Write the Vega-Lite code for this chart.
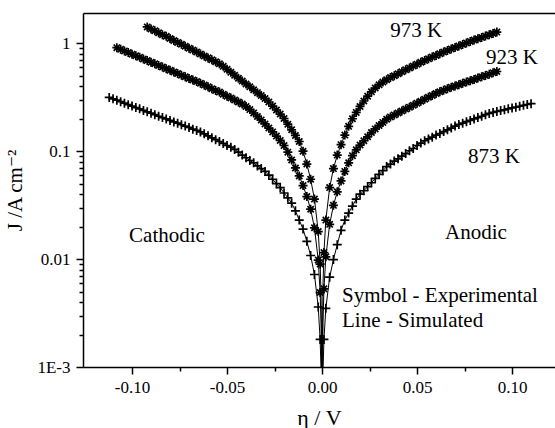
{
  "$schema": "https://vega.github.io/schema/vega-lite/v6.json",
  "width": 472,
  "height": 354,
  "autosize": "none",
  "padding": {"left": 83, "top": 13, "right": 0, "bottom": 61},
  "background": "white",
  "config": {"view": {"stroke": null}, "font": "Liberation Serif, DejaVu Serif, serif"},
  "datasets": {
    "curves": [
      {"T": "973 K", "x": -0.092, "j": 1.42}, {"T": "973 K", "x": -0.090, "j": 1.36}, {"T": "973 K", "x": -0.088, "j": 1.31},
      {"T": "973 K", "x": -0.086, "j": 1.25}, {"T": "973 K", "x": -0.084, "j": 1.20}, {"T": "973 K", "x": -0.082, "j": 1.16},
      {"T": "973 K", "x": -0.080, "j": 1.11}, {"T": "973 K", "x": -0.078, "j": 1.06}, {"T": "973 K", "x": -0.076, "j": 1.02},
      {"T": "973 K", "x": -0.074, "j": 0.980}, {"T": "973 K", "x": -0.072, "j": 0.940}, {"T": "973 K", "x": -0.070, "j": 0.902},
      {"T": "973 K", "x": -0.068, "j": 0.865}, {"T": "973 K", "x": -0.066, "j": 0.830}, {"T": "973 K", "x": -0.064, "j": 0.796},
      {"T": "973 K", "x": -0.062, "j": 0.764}, {"T": "973 K", "x": -0.060, "j": 0.733}, {"T": "973 K", "x": -0.058, "j": 0.703},
      {"T": "973 K", "x": -0.056, "j": 0.675}, {"T": "973 K", "x": -0.054, "j": 0.645}, {"T": "973 K", "x": -0.052, "j": 0.612},
      {"T": "973 K", "x": -0.050, "j": 0.575}, {"T": "973 K", "x": -0.048, "j": 0.540}, {"T": "973 K", "x": -0.046, "j": 0.506},
      {"T": "973 K", "x": -0.044, "j": 0.475}, {"T": "973 K", "x": -0.042, "j": 0.447}, {"T": "973 K", "x": -0.040, "j": 0.420},
      {"T": "973 K", "x": -0.038, "j": 0.395}, {"T": "973 K", "x": -0.036, "j": 0.371}, {"T": "973 K", "x": -0.034, "j": 0.349},
      {"T": "973 K", "x": -0.032, "j": 0.328}, {"T": "973 K", "x": -0.030, "j": 0.308}, {"T": "973 K", "x": -0.028, "j": 0.286},
      {"T": "973 K", "x": -0.026, "j": 0.262}, {"T": "973 K", "x": -0.024, "j": 0.241}, {"T": "973 K", "x": -0.022, "j": 0.221},
      {"T": "973 K", "x": -0.020, "j": 0.201}, {"T": "973 K", "x": -0.018, "j": 0.178}, {"T": "973 K", "x": -0.016, "j": 0.158},
      {"T": "973 K", "x": -0.014, "j": 0.140}, {"T": "973 K", "x": -0.012, "j": 0.123}, {"T": "973 K", "x": -0.010, "j": 0.100},
      {"T": "973 K", "x": -0.008, "j": 0.076}, {"T": "973 K", "x": -0.006, "j": 0.055}, {"T": "973 K", "x": -0.004, "j": 0.036},
      {"T": "973 K", "x": -0.002, "j": 0.018}, {"T": "973 K", "x": -0.001, "j": 0.009},
      {"T": "973 K", "x": -0.0005, "j": 0.0045, "kind": "sim"}, {"T": "973 K", "x": -0.0001, "j": 0.0009, "kind": "sim"},
      {"T": "973 K", "x": 0.0001, "j": 0.0011, "kind": "sim"}, {"T": "973 K", "x": 0.0005, "j": 0.0057, "kind": "sim"},
      {"T": "973 K", "x": 0.001, "j": 0.0115}, {"T": "973 K", "x": 0.002, "j": 0.023}, {"T": "973 K", "x": 0.004, "j": 0.046},
      {"T": "973 K", "x": 0.006, "j": 0.069}, {"T": "973 K", "x": 0.008, "j": 0.092}, {"T": "973 K", "x": 0.010, "j": 0.115},
      {"T": "973 K", "x": 0.012, "j": 0.141}, {"T": "973 K", "x": 0.014, "j": 0.170}, {"T": "973 K", "x": 0.016, "j": 0.200},
      {"T": "973 K", "x": 0.018, "j": 0.229}, {"T": "973 K", "x": 0.020, "j": 0.260}, {"T": "973 K", "x": 0.022, "j": 0.292},
      {"T": "973 K", "x": 0.024, "j": 0.324}, {"T": "973 K", "x": 0.026, "j": 0.355}, {"T": "973 K", "x": 0.028, "j": 0.385},
      {"T": "973 K", "x": 0.030, "j": 0.412}, {"T": "973 K", "x": 0.032, "j": 0.437}, {"T": "973 K", "x": 0.034, "j": 0.460},
      {"T": "973 K", "x": 0.036, "j": 0.481}, {"T": "973 K", "x": 0.038, "j": 0.501}, {"T": "973 K", "x": 0.040, "j": 0.522},
      {"T": "973 K", "x": 0.042, "j": 0.545}, {"T": "973 K", "x": 0.044, "j": 0.568}, {"T": "973 K", "x": 0.046, "j": 0.592},
      {"T": "973 K", "x": 0.048, "j": 0.617}, {"T": "973 K", "x": 0.050, "j": 0.641}, {"T": "973 K", "x": 0.052, "j": 0.667},
      {"T": "973 K", "x": 0.054, "j": 0.692}, {"T": "973 K", "x": 0.056, "j": 0.718}, {"T": "973 K", "x": 0.058, "j": 0.745},
      {"T": "973 K", "x": 0.060, "j": 0.773}, {"T": "973 K", "x": 0.062, "j": 0.802}, {"T": "973 K", "x": 0.064, "j": 0.830},
      {"T": "973 K", "x": 0.066, "j": 0.859}, {"T": "973 K", "x": 0.068, "j": 0.887}, {"T": "973 K", "x": 0.070, "j": 0.916},
      {"T": "973 K", "x": 0.072, "j": 0.946}, {"T": "973 K", "x": 0.074, "j": 0.977}, {"T": "973 K", "x": 0.076, "j": 1.009},
      {"T": "973 K", "x": 0.078, "j": 1.042}, {"T": "973 K", "x": 0.080, "j": 1.074}, {"T": "973 K", "x": 0.082, "j": 1.104},
      {"T": "973 K", "x": 0.084, "j": 1.135}, {"T": "973 K", "x": 0.086, "j": 1.167}, {"T": "973 K", "x": 0.088, "j": 1.202},
      {"T": "973 K", "x": 0.090, "j": 1.236}, {"T": "973 K", "x": 0.092, "j": 1.271},

      {"T": "923 K", "x": -0.108, "j": 0.912}, {"T": "923 K", "x": -0.106, "j": 0.881}, {"T": "923 K", "x": -0.104, "j": 0.851},
      {"T": "923 K", "x": -0.102, "j": 0.822}, {"T": "923 K", "x": -0.100, "j": 0.794}, {"T": "923 K", "x": -0.098, "j": 0.767},
      {"T": "923 K", "x": -0.096, "j": 0.741}, {"T": "923 K", "x": -0.094, "j": 0.716}, {"T": "923 K", "x": -0.092, "j": 0.692},
      {"T": "923 K", "x": -0.090, "j": 0.668}, {"T": "923 K", "x": -0.088, "j": 0.646}, {"T": "923 K", "x": -0.086, "j": 0.624},
      {"T": "923 K", "x": -0.084, "j": 0.603}, {"T": "923 K", "x": -0.082, "j": 0.582}, {"T": "923 K", "x": -0.080, "j": 0.562},
      {"T": "923 K", "x": -0.078, "j": 0.543}, {"T": "923 K", "x": -0.076, "j": 0.525}, {"T": "923 K", "x": -0.074, "j": 0.507},
      {"T": "923 K", "x": -0.072, "j": 0.490}, {"T": "923 K", "x": -0.070, "j": 0.473}, {"T": "923 K", "x": -0.068, "j": 0.457},
      {"T": "923 K", "x": -0.066, "j": 0.442}, {"T": "923 K", "x": -0.064, "j": 0.427}, {"T": "923 K", "x": -0.062, "j": 0.411},
      {"T": "923 K", "x": -0.060, "j": 0.395}, {"T": "923 K", "x": -0.058, "j": 0.380}, {"T": "923 K", "x": -0.056, "j": 0.366},
      {"T": "923 K", "x": -0.054, "j": 0.353}, {"T": "923 K", "x": -0.052, "j": 0.338}, {"T": "923 K", "x": -0.050, "j": 0.324},
      {"T": "923 K", "x": -0.048, "j": 0.311}, {"T": "923 K", "x": -0.046, "j": 0.298}, {"T": "923 K", "x": -0.044, "j": 0.286},
      {"T": "923 K", "x": -0.042, "j": 0.274}, {"T": "923 K", "x": -0.040, "j": 0.259}, {"T": "923 K", "x": -0.038, "j": 0.243},
      {"T": "923 K", "x": -0.036, "j": 0.226}, {"T": "923 K", "x": -0.034, "j": 0.210}, {"T": "923 K", "x": -0.032, "j": 0.195},
      {"T": "923 K", "x": -0.030, "j": 0.179}, {"T": "923 K", "x": -0.028, "j": 0.164}, {"T": "923 K", "x": -0.026, "j": 0.151},
      {"T": "923 K", "x": -0.024, "j": 0.138}, {"T": "923 K", "x": -0.022, "j": 0.126}, {"T": "923 K", "x": -0.020, "j": 0.113},
      {"T": "923 K", "x": -0.018, "j": 0.098}, {"T": "923 K", "x": -0.016, "j": 0.083}, {"T": "923 K", "x": -0.014, "j": 0.070},
      {"T": "923 K", "x": -0.012, "j": 0.059}, {"T": "923 K", "x": -0.010, "j": 0.048}, {"T": "923 K", "x": -0.008, "j": 0.038},
      {"T": "923 K", "x": -0.006, "j": 0.029}, {"T": "923 K", "x": -0.004, "j": 0.0195}, {"T": "923 K", "x": -0.002, "j": 0.0098},
      {"T": "923 K", "x": -0.001, "j": 0.0049},
      {"T": "923 K", "x": -0.0005, "j": 0.0025, "kind": "sim"}, {"T": "923 K", "x": -0.0001, "j": 0.0005, "kind": "sim"},
      {"T": "923 K", "x": 0.0001, "j": 0.00053, "kind": "sim"}, {"T": "923 K", "x": 0.0005, "j": 0.0026, "kind": "sim"},
      {"T": "923 K", "x": 0.001, "j": 0.0053}, {"T": "923 K", "x": 0.002, "j": 0.0105}, {"T": "923 K", "x": 0.004, "j": 0.021},
      {"T": "923 K", "x": 0.006, "j": 0.0315}, {"T": "923 K", "x": 0.008, "j": 0.042}, {"T": "923 K", "x": 0.010, "j": 0.053},
      {"T": "923 K", "x": 0.012, "j": 0.065}, {"T": "923 K", "x": 0.014, "j": 0.078}, {"T": "923 K", "x": 0.016, "j": 0.091},
      {"T": "923 K", "x": 0.018, "j": 0.103}, {"T": "923 K", "x": 0.020, "j": 0.114}, {"T": "923 K", "x": 0.022, "j": 0.125},
      {"T": "923 K", "x": 0.024, "j": 0.136}, {"T": "923 K", "x": 0.026, "j": 0.149}, {"T": "923 K", "x": 0.028, "j": 0.161},
      {"T": "923 K", "x": 0.030, "j": 0.173}, {"T": "923 K", "x": 0.032, "j": 0.185}, {"T": "923 K", "x": 0.034, "j": 0.198},
      {"T": "923 K", "x": 0.036, "j": 0.208}, {"T": "923 K", "x": 0.038, "j": 0.217}, {"T": "923 K", "x": 0.040, "j": 0.226},
      {"T": "923 K", "x": 0.042, "j": 0.236}, {"T": "923 K", "x": 0.044, "j": 0.246}, {"T": "923 K", "x": 0.046, "j": 0.256},
      {"T": "923 K", "x": 0.048, "j": 0.267}, {"T": "923 K", "x": 0.050, "j": 0.279}, {"T": "923 K", "x": 0.052, "j": 0.290},
      {"T": "923 K", "x": 0.054, "j": 0.303}, {"T": "923 K", "x": 0.056, "j": 0.316}, {"T": "923 K", "x": 0.058, "j": 0.329},
      {"T": "923 K", "x": 0.060, "j": 0.343}, {"T": "923 K", "x": 0.062, "j": 0.356}, {"T": "923 K", "x": 0.064, "j": 0.368},
      {"T": "923 K", "x": 0.066, "j": 0.380}, {"T": "923 K", "x": 0.068, "j": 0.391}, {"T": "923 K", "x": 0.070, "j": 0.402},
      {"T": "923 K", "x": 0.072, "j": 0.414}, {"T": "923 K", "x": 0.074, "j": 0.426}, {"T": "923 K", "x": 0.076, "j": 0.438},
      {"T": "923 K", "x": 0.078, "j": 0.450}, {"T": "923 K", "x": 0.080, "j": 0.463}, {"T": "923 K", "x": 0.082, "j": 0.476},
      {"T": "923 K", "x": 0.084, "j": 0.490}, {"T": "923 K", "x": 0.086, "j": 0.504}, {"T": "923 K", "x": 0.088, "j": 0.518},
      {"T": "923 K", "x": 0.090, "j": 0.533}, {"T": "923 K", "x": 0.092, "j": 0.548},

      {"T": "873 K", "x": -0.112, "j": 0.315}, {"T": "873 K", "x": -0.110, "j": 0.306}, {"T": "873 K", "x": -0.108, "j": 0.297},
      {"T": "873 K", "x": -0.106, "j": 0.288}, {"T": "873 K", "x": -0.104, "j": 0.279}, {"T": "873 K", "x": -0.102, "j": 0.270},
      {"T": "873 K", "x": -0.100, "j": 0.262}, {"T": "873 K", "x": -0.098, "j": 0.254}, {"T": "873 K", "x": -0.096, "j": 0.247},
      {"T": "873 K", "x": -0.094, "j": 0.239}, {"T": "873 K", "x": -0.092, "j": 0.232}, {"T": "873 K", "x": -0.090, "j": 0.225},
      {"T": "873 K", "x": -0.088, "j": 0.218}, {"T": "873 K", "x": -0.086, "j": 0.211}, {"T": "873 K", "x": -0.084, "j": 0.205},
      {"T": "873 K", "x": -0.082, "j": 0.199}, {"T": "873 K", "x": -0.080, "j": 0.193}, {"T": "873 K", "x": -0.078, "j": 0.187},
      {"T": "873 K", "x": -0.076, "j": 0.182}, {"T": "873 K", "x": -0.074, "j": 0.176}, {"T": "873 K", "x": -0.072, "j": 0.171},
      {"T": "873 K", "x": -0.070, "j": 0.166}, {"T": "873 K", "x": -0.068, "j": 0.160}, {"T": "873 K", "x": -0.066, "j": 0.156},
      {"T": "873 K", "x": -0.064, "j": 0.151}, {"T": "873 K", "x": -0.062, "j": 0.145}, {"T": "873 K", "x": -0.060, "j": 0.139},
      {"T": "873 K", "x": -0.058, "j": 0.133}, {"T": "873 K", "x": -0.056, "j": 0.128}, {"T": "873 K", "x": -0.054, "j": 0.123},
      {"T": "873 K", "x": -0.052, "j": 0.118}, {"T": "873 K", "x": -0.050, "j": 0.113}, {"T": "873 K", "x": -0.048, "j": 0.109},
      {"T": "873 K", "x": -0.046, "j": 0.104}, {"T": "873 K", "x": -0.044, "j": 0.098}, {"T": "873 K", "x": -0.042, "j": 0.092},
      {"T": "873 K", "x": -0.040, "j": 0.087}, {"T": "873 K", "x": -0.038, "j": 0.082}, {"T": "873 K", "x": -0.036, "j": 0.078},
      {"T": "873 K", "x": -0.034, "j": 0.073}, {"T": "873 K", "x": -0.032, "j": 0.069}, {"T": "873 K", "x": -0.030, "j": 0.065},
      {"T": "873 K", "x": -0.028, "j": 0.060}, {"T": "873 K", "x": -0.026, "j": 0.055}, {"T": "873 K", "x": -0.024, "j": 0.050},
      {"T": "873 K", "x": -0.022, "j": 0.046}, {"T": "873 K", "x": -0.020, "j": 0.041}, {"T": "873 K", "x": -0.018, "j": 0.037},
      {"T": "873 K", "x": -0.016, "j": 0.033}, {"T": "873 K", "x": -0.014, "j": 0.028}, {"T": "873 K", "x": -0.012, "j": 0.023},
      {"T": "873 K", "x": -0.010, "j": 0.019}, {"T": "873 K", "x": -0.008, "j": 0.0146}, {"T": "873 K", "x": -0.006, "j": 0.0108},
      {"T": "873 K", "x": -0.004, "j": 0.0072}, {"T": "873 K", "x": -0.002, "j": 0.0036}, {"T": "873 K", "x": -0.001, "j": 0.0018},
      {"T": "873 K", "x": -0.0005, "j": 0.0009, "kind": "sim"}, {"T": "873 K", "x": -0.0001, "j": 0.00018, "kind": "sim"},
      {"T": "873 K", "x": 0.0001, "j": 0.00018, "kind": "sim"}, {"T": "873 K", "x": 0.0005, "j": 0.0009, "kind": "sim"},
      {"T": "873 K", "x": 0.001, "j": 0.0018}, {"T": "873 K", "x": 0.002, "j": 0.0035}, {"T": "873 K", "x": 0.004, "j": 0.0068},
      {"T": "873 K", "x": 0.006, "j": 0.0099}, {"T": "873 K", "x": 0.008, "j": 0.0136}, {"T": "873 K", "x": 0.010, "j": 0.0185},
      {"T": "873 K", "x": 0.012, "j": 0.0230}, {"T": "873 K", "x": 0.014, "j": 0.0267}, {"T": "873 K", "x": 0.016, "j": 0.031},
      {"T": "873 K", "x": 0.018, "j": 0.036}, {"T": "873 K", "x": 0.020, "j": 0.040}, {"T": "873 K", "x": 0.022, "j": 0.043},
      {"T": "873 K", "x": 0.024, "j": 0.047}, {"T": "873 K", "x": 0.026, "j": 0.051}, {"T": "873 K", "x": 0.028, "j": 0.056},
      {"T": "873 K", "x": 0.030, "j": 0.061}, {"T": "873 K", "x": 0.032, "j": 0.066}, {"T": "873 K", "x": 0.034, "j": 0.072},
      {"T": "873 K", "x": 0.036, "j": 0.076}, {"T": "873 K", "x": 0.038, "j": 0.081}, {"T": "873 K", "x": 0.040, "j": 0.085},
      {"T": "873 K", "x": 0.042, "j": 0.090}, {"T": "873 K", "x": 0.044, "j": 0.095}, {"T": "873 K", "x": 0.046, "j": 0.101},
      {"T": "873 K", "x": 0.048, "j": 0.106}, {"T": "873 K", "x": 0.050, "j": 0.113}, {"T": "873 K", "x": 0.052, "j": 0.119},
      {"T": "873 K", "x": 0.054, "j": 0.125}, {"T": "873 K", "x": 0.056, "j": 0.130}, {"T": "873 K", "x": 0.058, "j": 0.135},
      {"T": "873 K", "x": 0.060, "j": 0.141}, {"T": "873 K", "x": 0.062, "j": 0.146}, {"T": "873 K", "x": 0.064, "j": 0.152},
      {"T": "873 K", "x": 0.066, "j": 0.158}, {"T": "873 K", "x": 0.068, "j": 0.164}, {"T": "873 K", "x": 0.070, "j": 0.171},
      {"T": "873 K", "x": 0.072, "j": 0.177}, {"T": "873 K", "x": 0.074, "j": 0.182}, {"T": "873 K", "x": 0.076, "j": 0.188},
      {"T": "873 K", "x": 0.078, "j": 0.193}, {"T": "873 K", "x": 0.080, "j": 0.199}, {"T": "873 K", "x": 0.082, "j": 0.205},
      {"T": "873 K", "x": 0.084, "j": 0.211}, {"T": "873 K", "x": 0.086, "j": 0.218}, {"T": "873 K", "x": 0.088, "j": 0.224},
      {"T": "873 K", "x": 0.090, "j": 0.229}, {"T": "873 K", "x": 0.092, "j": 0.234}, {"T": "873 K", "x": 0.094, "j": 0.238},
      {"T": "873 K", "x": 0.096, "j": 0.242}, {"T": "873 K", "x": 0.098, "j": 0.247}, {"T": "873 K", "x": 0.100, "j": 0.252},
      {"T": "873 K", "x": 0.102, "j": 0.256}, {"T": "873 K", "x": 0.104, "j": 0.261}, {"T": "873 K", "x": 0.106, "j": 0.266},
      {"T": "873 K", "x": 0.108, "j": 0.271}, {"T": "873 K", "x": 0.110, "j": 0.276}
    ],
    "centredNotes": [
      {"label": "973 K", "x": 0.0495, "j": 1.30},
      {"label": "923 K", "x": 0.100, "j": 0.73},
      {"label": "873 K", "x": 0.0905, "j": 0.088},
      {"label": "Cathodic", "x": -0.0816, "j": 0.0163},
      {"label": "Anodic", "x": 0.081, "j": 0.0174}
    ],
    "legendNotes": [
      {"label": "Symbol - Experimental", "x": 0.0105, "j": 0.00453},
      {"label": "Line - Simulated", "x": 0.0105, "j": 0.00266}
    ]
  },
  "layer": [
    {
      "data": {"name": "curves"},
      "mark": {"type": "line", "color": "black", "strokeWidth": 1, "clip": true},
      "encoding": {
        "x": {
          "field": "x", "type": "quantitative",
          "scale": {"domain": [-0.1258, 0.1226], "nice": false, "zero": false},
          "axis": {
            "orient": "bottom",
            "values": [-0.1, -0.075, -0.05, -0.025, 0, 0.025, 0.05, 0.075, 0.1],
            "labelExpr": "abs(datum.value * 20 - round(datum.value * 20)) > 0.01 ? '' : replace(format(datum.value, '.2f'), '\u2212', '-')",
            "tickSize": {"condition": {"test": "abs(datum.value * 20 - round(datum.value * 20)) > 0.01", "value": 4}, "value": 7},
            "tickWidth": 1.5, "tickColor": "black",
            "domainColor": "black", "domainWidth": 1.5,
            "grid": false, "labelOverlap": false, "labelFlush": false,
            "labelFont": "Liberation Serif, DejaVu Serif, serif", "labelFontSize": 17, "labelColor": "black", "labelPadding": 5,
            "title": "η / V", "titleFont": "Liberation Serif, DejaVu Serif, serif", "titleFontSize": 22, "titleFontWeight": "normal",
            "titleColor": "black", "titlePadding": 12
          }
        },
        "y": {
          "field": "j", "type": "quantitative",
          "scale": {"type": "log", "domain": [0.001, 1.91], "nice": false},
          "axis": {
            "orient": "left",
            "values": [0.001, 0.002, 0.003, 0.004, 0.005, 0.006, 0.007, 0.008, 0.009,
                       0.01, 0.02, 0.03, 0.04, 0.05, 0.06, 0.07, 0.08, 0.09,
                       0.1, 0.2, 0.3, 0.4, 0.5, 0.6, 0.7, 0.8, 0.9, 1],
            "labelExpr": "abs(log(datum.value) / LN10 - round(log(datum.value) / LN10)) > 0.01 ? '' : (datum.value < 0.005 ? '1E-3' : toString(datum.value))",
            "tickSize": {"condition": {"test": "abs(log(datum.value) / LN10 - round(log(datum.value) / LN10)) > 0.01", "value": 4}, "value": 7},
            "tickWidth": 1.5, "tickColor": "black",
            "domainColor": "black", "domainWidth": 1.5,
            "grid": false, "labelOverlap": false, "labelFlush": false,
            "labelFont": "Liberation Serif, DejaVu Serif, serif", "labelFontSize": 17, "labelColor": "black", "labelPadding": 6,
            "title": "J /A cm⁻²", "titleFont": "Liberation Serif, DejaVu Serif, serif", "titleFontSize": 21, "titleFontWeight": "normal",
            "titleColor": "black", "titlePadding": 11
          }
        },
        "detail": {"field": "T"}
      }
    },
    {
      "data": {"name": "curves"},
      "transform": [{"filter": "datum.kind !== 'sim'"}],
      "mark": {"type": "point", "filled": false, "color": "black", "opacity": 1, "clip": true},
      "encoding": {
        "x": {"field": "x", "type": "quantitative", "axis": null},
        "y": {"field": "j", "type": "quantitative", "axis": null},
        "shape": {
          "field": "T", "type": "nominal", "legend": null,
          "scale": {"domain": ["973 K", "923 K", "873 K"],
                    "range": ["M-1,0L1,0M0,-1L0,1M-0.7,-0.7L0.7,0.7M-0.7,0.7L0.7,-0.7",
                              "M-1,0L1,0M0,-1L0,1M-0.7,-0.7L0.7,0.7M-0.7,0.7L0.7,-0.7",
                              "M-1,0L1,0M0,-1L0,1"]}
        },
        "size": {
          "field": "T", "type": "nominal", "legend": null,
          "scale": {"domain": ["973 K", "923 K", "873 K"], "range": [81, 81, 56]}
        },
        "strokeWidth": {
          "field": "T", "type": "nominal", "legend": null,
          "scale": {"domain": ["973 K", "923 K", "873 K"], "range": [1.7, 1.7, 1.1]}
        }
      }
    },
    {
      "data": {"name": "centredNotes"},
      "mark": {"type": "text", "font": "Liberation Serif, DejaVu Serif, serif", "fontSize": 21, "color": "black", "align": "center", "baseline": "middle"},
      "encoding": {
        "x": {
          "field": "x", "type": "quantitative",
          "axis": {"orient": "top", "labels": false, "ticks": false, "grid": false, "title": null, "domainColor": "black", "domainWidth": 1.5}
        },
        "y": {"field": "j", "type": "quantitative", "axis": null},
        "text": {"field": "label"}
      }
    },
    {
      "data": {"name": "legendNotes"},
      "mark": {"type": "text", "font": "Liberation Serif, DejaVu Serif, serif", "fontSize": 21, "color": "black", "align": "left", "baseline": "middle"},
      "encoding": {
        "x": {"field": "x", "type": "quantitative", "axis": null},
        "y": {"field": "j", "type": "quantitative", "axis": null},
        "text": {"field": "label"}
      }
    }
  ],
  "resolve": {"axis": {"x": "independent", "y": "independent"}}
}
